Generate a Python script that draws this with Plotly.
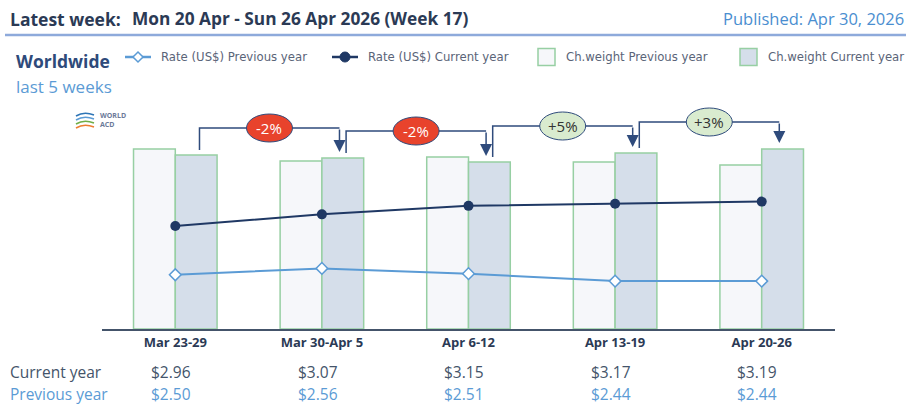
import plotly.graph_objects as go

# values
weeks = ["Mar 23-29", "Mar 30-Apr 5", "Apr 6-12", "Apr 13-19", "Apr 20-26"]
rate_cur = [2.96, 3.07, 3.15, 3.17, 3.19]
rate_prev = [2.50, 2.56, 2.51, 2.44, 2.44]
# chargeable weight, relative units (no scale shown on the chart)
cw_prev = [180, 168, 172, 167, 164]
cw_cur = [174, 171, 167, 176, 180]
changes = ["-2%", "-2%", "+5%", "+3%"]

W, H = 911, 405
L, R, T, B = 102, 76, 100, 76
plot_w = W - L - R
plot_h = H - T - B
bar_range = [0, 229]
rate_range = [1.988, 4.149]
unit_px = (bar_range[1] - bar_range[0]) / plot_h  # bar units per pixel
x_px = 5 / plot_w  # category units per pixel

FONT = "Open Sans"
DARK = "#2b3a55"
NAVY = "#1f3864"
LIGHT = "#5b9bd5"
GREEN_EDGE = "#97cfa3"
PREV_FILL = "#f6f7fa"
CUR_FILL = "#d5deea"


def px_x(px):
    return (px - L) / plot_w


def px_y(py):
    return (H - B - py) / plot_h


xs = list(range(len(weeks)))

fig = go.Figure()
fig.add_trace(go.Scatter(
    x=xs, y=rate_prev, yaxis="y2", name="Rate (US$) Previous year",
    mode="lines+markers", line=dict(color=LIGHT, width=2),
    marker=dict(symbol="diamond", size=9, color="white", line=dict(color=LIGHT, width=1.5))))
fig.add_trace(go.Scatter(
    x=xs, y=rate_cur, yaxis="y2", name="Rate (US$) Current year",
    mode="lines+markers", line=dict(color=NAVY, width=2),
    marker=dict(symbol="circle", size=10, color=NAVY)))
fig.add_trace(go.Bar(
    x=xs, y=cw_prev, name="Ch.weight Previous year",
    marker=dict(color=PREV_FILL, line=dict(color=GREEN_EDGE, width=1.5))))
fig.add_trace(go.Bar(
    x=xs, y=cw_cur, name="Ch.weight Current year",
    marker=dict(color=CUR_FILL, line=dict(color=GREEN_EDGE, width=1.5))))

shapes = []
annotations = []

# week-on-week connectors with change labels
for i, label in enumerate(changes):
    a, b = cw_cur[i], cw_cur[i + 1]
    x0 = i + 0.165
    x1 = i + 1 + 0.12
    level = max(a, b) + 27 * unit_px
    shapes.append(dict(type="path", xref="x", yref="y",
                       path=f"M {x0},{a + 5 * unit_px} L {x0},{level} L {x1},{level}",
                       line=dict(color="#2f4b7c", width=1.5)))
    annotations.append(dict(x=x1, y=b + 6 * unit_px, ax=x1, ay=level, xref="x", yref="y",
                            axref="x", ayref="y", text="", showarrow=True, arrowhead=2,
                            arrowsize=1.6, arrowwidth=1.5, arrowcolor="#2f4b7c"))
    xm = (x0 + x1) / 2
    up = label.startswith("+")
    shapes.append(dict(type="circle", xref="x", yref="y",
                       x0=xm - 23 * x_px, x1=xm + 23 * x_px,
                       y0=level - 14 * unit_px, y1=level + 14 * unit_px,
                       fillcolor="#d9ebcf" if up else "#e8432c",
                       line=dict(color="#2f4b7c", width=1)))
    annotations.append(dict(x=xm, y=level, xref="x", yref="y", text=label, showarrow=False,
                            font=dict(family=FONT, size=15, color="#333333" if up else "white")))

# header
shapes.append(dict(type="line", xref="paper", yref="paper", x0=px_x(5), x1=px_x(906),
                   y0=px_y(35), y1=px_y(35), line=dict(color="#8eaadb", width=2.5)))
header = [
    (8, 19, "<b>Latest week:</b>", DARK, 17.5, "left"),
    (130, 19, "<b>Mon 20 Apr - Sun 26 Apr 2026 (Week 17)</b>", DARK, 17.3, "left"),
    (906, 19, "Published: Apr 30, 2026", "#4a8ed0", 16.5, "right"),
    (14, 61, "<b>Worldwide</b>", "#2e4a7a", 17.5, "left"),
    (14, 86, "last 5 weeks", LIGHT, 17, "left"),
]
for x, y, text, color, size, anchor in header:
    annotations.append(dict(x=px_x(x), y=px_y(y), xref="paper", yref="paper", text=text,
                            showarrow=False, xanchor=anchor, yanchor="middle",
                            font=dict(family=FONT, size=size, color=color)))

# legend drawn by hand so it sits on one row like the original
LEG_Y = 57
LEG_FONT = dict(family="DejaVu Sans", size=11.7, color="#5a6478")
for x_line, color, name in [(125, LIGHT, "Rate (US$) Previous year"),
                            (332, NAVY, "Rate (US$) Current year")]:
    shapes.append(dict(type="line", xref="paper", yref="paper", x0=px_x(x_line),
                       x1=px_x(x_line + 26), y0=px_y(LEG_Y), y1=px_y(LEG_Y),
                       line=dict(color=color, width=2.5)))
    cx = x_line + 13
    if color == LIGHT:
        shapes.append(dict(type="path", xref="paper", yref="paper",
                           path=(f"M {px_x(cx - 5)},{px_y(LEG_Y)} L {px_x(cx)},{px_y(LEG_Y - 5)} "
                                 f"L {px_x(cx + 5)},{px_y(LEG_Y)} L {px_x(cx)},{px_y(LEG_Y + 5)} Z"),
                           fillcolor="white", line=dict(color=LIGHT, width=1.5)))
    else:
        shapes.append(dict(type="circle", xref="paper", yref="paper", x0=px_x(cx - 5),
                           x1=px_x(cx + 5), y0=px_y(LEG_Y + 5), y1=px_y(LEG_Y - 5),
                           fillcolor=NAVY, line=dict(color=NAVY, width=1)))
    annotations.append(dict(x=px_x(x_line + 34), y=px_y(LEG_Y), xref="paper", yref="paper",
                            text=name, showarrow=False, xanchor="left", yanchor="middle",
                            font=LEG_FONT))
for x_box, fill, name in [(538, PREV_FILL, "Ch.weight Previous year"),
                          (740, CUR_FILL, "Ch.weight Current year")]:
    shapes.append(dict(type="rect", xref="paper", yref="paper", x0=px_x(x_box),
                       x1=px_x(x_box + 17), y0=px_y(LEG_Y + 8.5), y1=px_y(LEG_Y - 8.5),
                       fillcolor=fill, line=dict(color=GREEN_EDGE, width=1.5)))
    annotations.append(dict(x=px_x(x_box + 26), y=px_y(LEG_Y), xref="paper", yref="paper",
                            text=name, showarrow=False, xanchor="left", yanchor="middle",
                            font=LEG_FONT))

# logo
logo_cols = ["#2e75b6", "#5b9bd5", "#70ad47", "#ed7d31"]
for k, c in enumerate(logo_cols):
    y = 114 + k * 4
    shapes.append(dict(type="path", xref="paper", yref="paper",
                       path=f"M {px_x(76)},{px_y(y + 2)} Q {px_x(84)},{px_y(y - 3)} {px_x(94)},{px_y(y + 1)}",
                       line=dict(color=c, width=1.5)))
annotations.append(dict(x=px_x(98), y=px_y(120), xref="paper", yref="paper",
                        text="<b>WORLD<br>ACD</b>", showarrow=False, xanchor="left",
                        yanchor="middle", align="left",
                        font=dict(family=FONT, size=7, color="#6b7a99")))

# table of rates under the axis
rows = [(372, "Current year", rate_cur, "#44546a"), (394, "Previous year", rate_prev, LIGHT)]
for y, name, vals, color in rows:
    annotations.append(dict(x=px_x(8), y=px_y(y), xref="paper", yref="paper", text=name,
                            showarrow=False, xanchor="left", yanchor="middle",
                            font=dict(family=FONT, size=15.5, color=color)))
    for x, v in zip(xs, vals):
        annotations.append(dict(x=x - 0.03, y=px_y(y), xref="x", yref="paper", text=f"${v:.2f}",
                                showarrow=False, xanchor="center", yanchor="middle",
                                font=dict(family=FONT, size=15.5, color=color)))

fig.update_layout(
    width=W, height=H, margin=dict(l=L, r=R, t=T, b=B),
    paper_bgcolor="white", plot_bgcolor="white",
    barmode="group", bargap=0.43, bargroupgap=0,
    font=dict(family=FONT, color=DARK), showlegend=False,
    xaxis=dict(range=[-0.5, 4.5], tickmode="array", tickvals=xs,
               ticktext=[f"<b>{w}</b>" for w in weeks], tickfont=dict(size=13, color=DARK),
               showgrid=False, zeroline=False, showline=True, linecolor="#44546a", linewidth=2,
               ticks=""),
    yaxis=dict(range=bar_range, visible=False, showgrid=False),
    yaxis2=dict(range=rate_range, overlaying="y", visible=False, showgrid=False),
    shapes=shapes, annotations=annotations,
)

fig.write_html("out.html", config={"displayModeBar": False},
               post_script="document.body.style.margin='0';")
